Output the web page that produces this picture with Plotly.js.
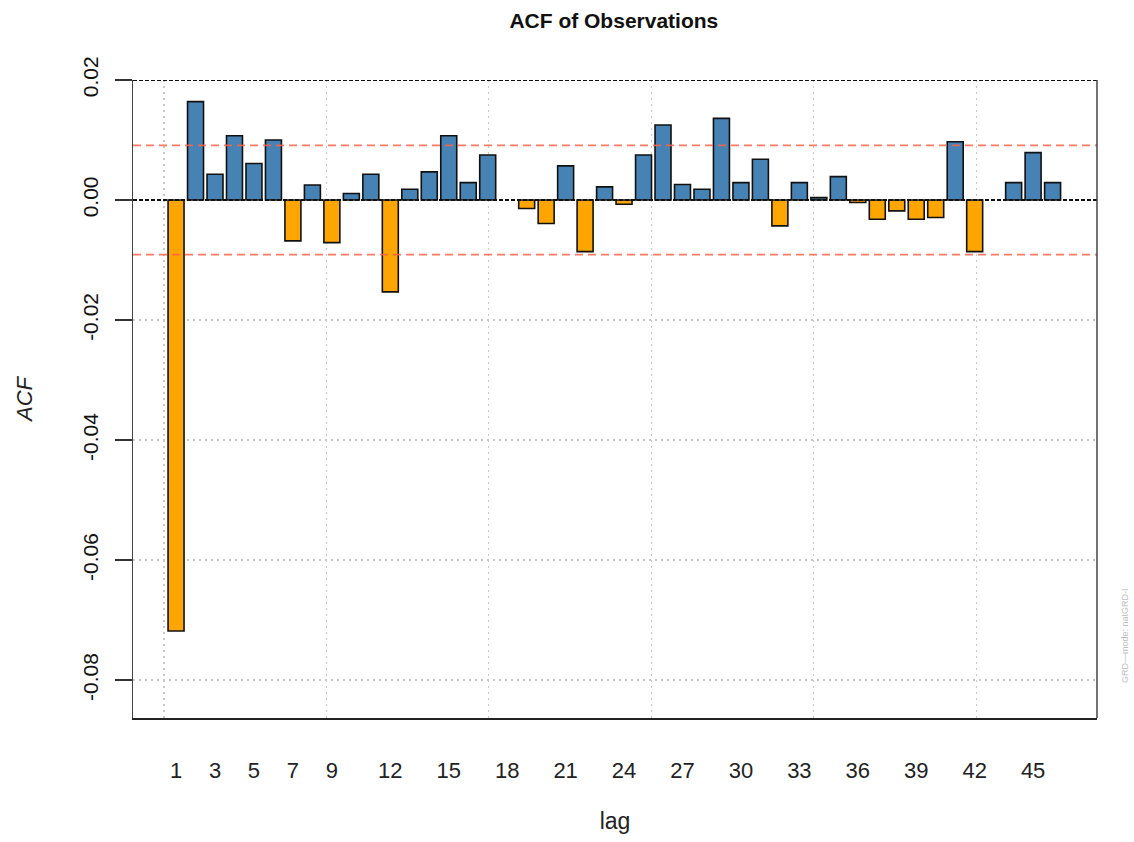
<!DOCTYPE html>
<html>
<head>
<meta charset="utf-8">
<script src="https://cdn.plot.ly/plotly-3.0.1.min.js"></script>
<style>html,body{margin:0;padding:0;background:#fff;}#chart{width:1134px;height:842px;}</style>
</head>
<body>
<div id="chart"></div>
<script>
// Data (null = no visible bar)
const lags = [1,2,3,4,5,6,7,8,9,10,11,12,13,14,15,16,17,18,19,20,21,22,23,24,25,26,27,28,29,30,31,32,33,34,35,36,37,38,39,40,41,42,43,44,45,46];
const acfValues = [-0.0718, 0.0164, 0.0043, 0.0107, 0.0061, 0.0100, -0.0068, 0.0025, -0.0071, 0.0011,
  0.0043, -0.0153, 0.0018, 0.0047, 0.0107, 0.0029, 0.0075, null, -0.0014, -0.0039,
  0.0057, -0.0086, 0.0022, -0.0007, 0.0075, 0.0125, 0.0026, 0.0018, 0.0136, 0.0029,
  0.0068, -0.0043, 0.0029, 0.0004, 0.0039, -0.0004, -0.0032, -0.0018, -0.0032, -0.0029,
  0.0097, -0.0086, null, 0.0029, 0.0079, 0.0029];
const confBand = 0.0091;
const xTickVals = [1,3,5,7,9,12,15,18,21,24,27,30,33,36,39,42,45];
const yTickVals = [0.02, 0.00, -0.02, -0.04, -0.06, -0.08];
const yTickText = ["0.02", "0.00", "-0.02", "-0.04", "-0.06", "-0.08"];

const posColor = "#4682B4";
const negColor = "#FFA500";
const barColors = acfValues.map(v => (v !== null && v < 0) ? negColor : posColor);

const trace = {
  type: "bar",
  x: lags,
  y: acfValues,
  width: 0.82,
  marker: { color: barColors, line: { color: "#111", width: 1.6 } },
  hoverinfo: "x+y"
};

const layout = {
  width: 1134, height: 842,
  margin: { l: 133, r: 37, t: 80, b: 124 },
  paper_bgcolor: "#fff", plot_bgcolor: "#fff",
  showlegend: false,
  bargap: 0,
  title: {
    text: "<b>ACF of Observations</b>",
    x: 0.5413, xanchor: "center", y: 0.976, yanchor: "middle",
    font: { family: "Liberation Sans, Arial", size: 21, color: "#111" }
  },
  xaxis: {
    range: [-1.21, 48.28],
    tickmode: "array", tickvals: xTickVals,
    ticks: "", showgrid: false, zeroline: false,
    showline: true, linecolor: "#222", linewidth: 2,
    ticklabelstandoff: 32,
    tickfont: { family: "Liberation Sans Narrow, Liberation Sans, Arial", size: 22, color: "#222" },
    minor: { tickmode: "linear", tick0: 0.38, dtick: 8.34, showgrid: true, griddash: "2px,4px", gridcolor: "#c8c8c8", gridwidth: 1.2, ticks: "" },
    title: { text: "lag", standoff: 30, font: { family: "Liberation Sans Narrow, Liberation Sans, Arial", size: 23, color: "#222" } }
  },
  yaxis: {
    range: [-0.0863, 0.02],
    tickmode: "array", tickvals: yTickVals, ticktext: yTickText,
    tickangle: -90,
    ticks: "outside", ticklen: 17, tickwidth: 2, tickcolor: "#333",
    ticklabelstandoff: 8,
    showgrid: true, griddash: "2px,4px", gridcolor: "#c8c8c8", gridwidth: 1.4,
    zeroline: false,
    showline: true, linecolor: "#444", linewidth: 1.5,
    tickfont: { family: "Liberation Sans Narrow, Liberation Sans, Arial", size: 21, color: "#111" },
    title: { text: "<i>ACF</i>", standoff: 40, font: { family: "Liberation Sans Narrow, Liberation Sans, Arial", size: 22, color: "#222" } }
  },
  shapes: [
    { type: "line", xref: "paper", x0: 0, x1: 1, yref: "y", y0: 0, y1: 0, line: { color: "#111", width: 2, dash: "4px,2px" }, layer: "above" },
    { type: "line", xref: "paper", x0: 0, x1: 1, yref: "y", y0: 0.02, y1: 0.02, line: { color: "#111", width: 2.2, dash: "4px,2px" } },
    { type: "line", xref: "paper", x0: 0, x1: 1, yref: "y", y0: confBand, y1: confBand, line: { color: "rgba(255,99,71,0.85)", width: 1.8, dash: "8px,5px" }, layer: "above" },
    { type: "line", xref: "paper", x0: 0, x1: 1, yref: "y", y0: -confBand, y1: -confBand, line: { color: "rgba(255,99,71,0.85)", width: 1.8, dash: "8px,5px" }, layer: "above" },
    { type: "line", xref: "paper", x0: 1, x1: 1, yref: "paper", y0: 0, y1: 1, line: { color: "#444", width: 1.5 } }
  ],
  annotations: [
    { text: "GRD—mode: natGRD-I", xref: "paper", yref: "paper", x: 1.029, y: 0.13,
      xanchor: "center", yanchor: "middle", textangle: -90, showarrow: false,
      font: { family: "Liberation Sans", size: 9, color: "#bdbdbd" } }
  ]
};

Plotly.newPlot("chart", [trace], layout, { displayModeBar: false, staticPlot: true });
</script>
</body>
</html>
